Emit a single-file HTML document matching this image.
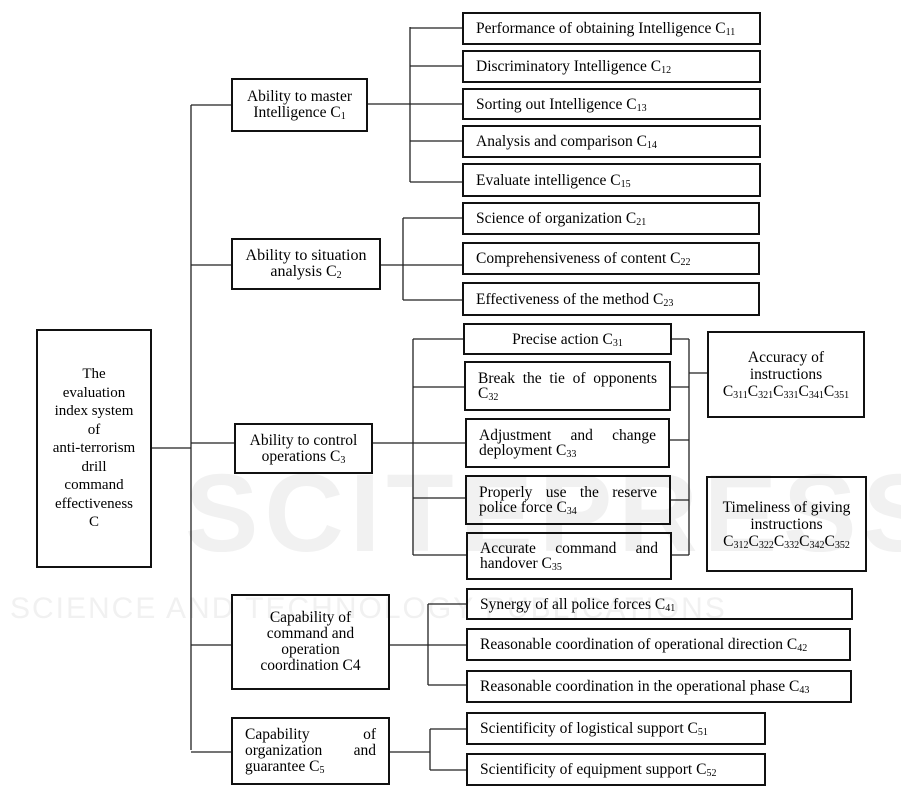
<!DOCTYPE html>
<html><head><meta charset="utf-8"><style>
body{margin:0;width:901px;height:795px;background:#fff;position:relative;overflow:hidden;font-family:"Liberation Serif",serif;font-size:15.5px;color:#000}
.b{position:absolute;border:2px solid #111;box-sizing:border-box;display:flex;align-items:center;padding:0 12px;line-height:15px;background:transparent}
.c{justify-content:center;text-align:center}
.b>div{width:100%}
.jl{text-align:justify;text-align-last:justify}
sub{font-size:10px;vertical-align:-2px;line-height:0}
.wm{position:absolute;color:#f1f1f1;font-family:"Liberation Sans",sans-serif;font-weight:bold;white-space:nowrap}
</style></head><body>
<div class="wm" style="left:185px;top:450px;font-size:110px;letter-spacing:6px">SCITEPRESS</div>
<div class="wm" style="left:10px;top:592px;font-size:30px;font-weight:normal;letter-spacing:2px">SCIENCE AND TECHNOLOGY PUBLICATIONS</div>
<svg width="901" height="795" style="position:absolute;left:0;top:0" stroke="#222" stroke-width="1.3" fill="none">
<path d="M152 448H191M191 105V750M191 105H231M191 265H231M191 443H234M191 645H231M191 752H231"/>
<path d="M368 104H462M410 27V182M410 28H462M410 66H462M410 141H462M410 182H462"/>
<path d="M381 265H462M403 218V300M403 218H462M403 300H462"/>
<path d="M373 443H465M413 339V555M413 339H463M413 387H464M413 498H465M413 555H466"/>
<path d="M672 339H689M671 387H689M670 440H689M671 500H689M672 555H689M689 339V555M689 373H707"/>
<path d="M390 645H466M428 604V685M428 604H466M428 685H466"/>
<path d="M390 752H430M430 729V770M430 729H466M430 770H466"/>
</svg>
<div class="b c" style="left:36px;top:329px;width:116px;height:239px;line-height:18.5px;padding:0 2px;font-size:15px"><div>The<br>evaluation<br>index system<br>of<br>anti-terrorism<br>drill<br>command<br>effectiveness<br>C</div></div>
<div class="b c" style="left:231px;top:78px;width:137px;height:54px;line-height:16px;padding:0 2px"><div>Ability to master<br>Intelligence C<sub>1</sub></div></div>
<div class="b c" style="left:231px;top:238px;width:150px;height:52px;line-height:16px;padding:0 2px;font-size:16px"><div>Ability to situation<br>analysis C<sub>2</sub></div></div>
<div class="b c" style="left:234px;top:423px;width:139px;height:51px;line-height:16px;padding:0 2px"><div>Ability to control<br>operations C<sub>3</sub></div></div>
<div class="b c" style="left:231px;top:594px;width:159px;height:96px;line-height:16px;padding:0 2px"><div>Capability of<br>command and<br>operation<br>coordination C4</div></div>
<div class="b" style="left:231px;top:717px;width:159px;height:68px;line-height:16px"><div><div class="jl">Capability of</div><div class="jl">organization and</div><div>guarantee C<sub>5</sub></div></div></div>

<div class="b" style="left:462px;top:12px;width:299px;height:33px"><div>Performance of obtaining Intelligence C<sub>11</sub></div></div>
<div class="b" style="left:462px;top:50px;width:299px;height:33px"><div>Discriminatory Intelligence C<sub>12</sub></div></div>
<div class="b" style="left:462px;top:88px;width:299px;height:32px"><div>Sorting out Intelligence C<sub>13</sub></div></div>
<div class="b" style="left:462px;top:125px;width:299px;height:33px"><div>Analysis and comparison C<sub>14</sub></div></div>
<div class="b" style="left:462px;top:163px;width:299px;height:34px"><div>Evaluate intelligence C<sub>15</sub></div></div>
<div class="b" style="left:462px;top:202px;width:298px;height:33px"><div>Science of organization C<sub>21</sub></div></div>
<div class="b" style="left:462px;top:242px;width:298px;height:33px"><div>Comprehensiveness of content C<sub>22</sub></div></div>
<div class="b" style="left:462px;top:282px;width:298px;height:34px"><div>Effectiveness of the method C<sub>23</sub></div></div>

<div class="b c" style="left:463px;top:323px;width:209px;height:32px"><div>Precise action C<sub>31</sub></div></div>
<div class="b" style="left:464px;top:361px;width:207px;height:50px"><div><div class="jl">Break the tie of opponents</div><div>C<sub>32</sub></div></div></div>
<div class="b" style="left:465px;top:418px;width:205px;height:50px"><div><div class="jl">Adjustment and change</div><div>deployment C<sub>33</sub></div></div></div>
<div class="b" style="left:465px;top:475px;width:206px;height:50px"><div><div class="jl">Properly use the reserve</div><div>police force C<sub>34</sub></div></div></div>
<div class="b" style="left:466px;top:532px;width:206px;height:48px"><div><div class="jl">Accurate command and</div><div>handover C<sub>35</sub></div></div></div>

<div class="b c" style="left:707px;top:331px;width:158px;height:87px;padding:0 2px;line-height:17px"><div>Accuracy of<br>instructions<br>C<sub>311</sub>C<sub>321</sub>C<sub>331</sub>C<sub>341</sub>C<sub>351</sub></div></div>
<div class="b c" style="left:706px;top:476px;width:161px;height:96px;padding:0 2px;line-height:17px"><div>Timeliness of giving<br>instructions<br>C<sub>312</sub>C<sub>322</sub>C<sub>332</sub>C<sub>342</sub>C<sub>352</sub></div></div>

<div class="b" style="left:466px;top:588px;width:387px;height:32px"><div>Synergy of all police forces C<sub>41</sub></div></div>
<div class="b" style="left:466px;top:628px;width:385px;height:33px"><div>Reasonable coordination of operational direction C<sub>42</sub></div></div>
<div class="b" style="left:466px;top:670px;width:386px;height:33px"><div>Reasonable coordination in the operational phase C<sub>43</sub></div></div>
<div class="b" style="left:466px;top:712px;width:300px;height:33px"><div>Scientificity of logistical support C<sub>51</sub></div></div>
<div class="b" style="left:466px;top:753px;width:300px;height:33px"><div>Scientificity of equipment support C<sub>52</sub></div></div>
</body></html>
